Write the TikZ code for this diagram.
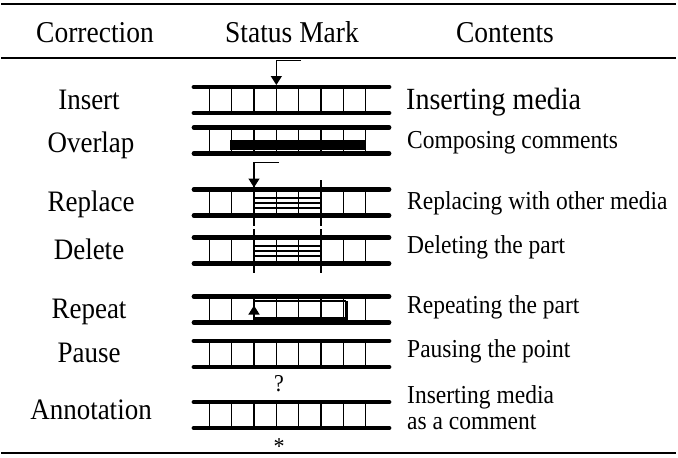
\documentclass[tikz,border=0pt]{standalone}
\usepackage{fontspec}
\setmainfont{Liberation Serif}
\usetikzlibrary{arrows.meta}
\newcommand\fstrip[1]{%
  \draw[bar] (194,#1) -- (389,#1);
  \draw[bar] (194,#1+26) -- (389,#1+26);
  \foreach \k in {0,...,7} \draw[cell] (209.3+22.35*\k,#1) -- (209.3+22.35*\k,#1+26);
}
\newcommand\tall[1]{\scalebox{1}[1.1]{#1}}
\begin{document}
\begin{tikzpicture}[x=1pt,y=-1pt,
  bar/.style={line width=4.8pt,line cap=round},
  cell/.style={line width=1.3pt},
  rulestyle/.style={line width=1.6pt},
  longmark/.style={line width=2pt},
  thinmark/.style={line width=1.3pt},
  tip/.style={-{Triangle[width=11pt,length=9pt]}, line width=1.3pt},
  hdr/.style={font=\fontsize{27.5}{30}\selectfont, anchor=base, inner sep=0pt},
  lab/.style={font=\fontsize{27}{30}\selectfont, anchor=base, inner sep=0pt},
  desc/.style={font=\fontsize{23.5}{26}\selectfont, anchor=base west, inner sep=0pt},
  bigdesc/.style={font=\fontsize{28}{30}\selectfont, anchor=base west, inner sep=0pt},
  symb/.style={font=\fontsize{22}{24}\selectfont, anchor=base, inner sep=0pt}]
\useasboundingbox (0,0) rectangle (678,458);
% rules
\draw[rulestyle] (1,4) -- (676,4);
\draw[rulestyle] (1,58) -- (676,58);
\draw[rulestyle] (1,453) -- (676,453);
% header
\node[hdr] (h1) at (95,42) {\tall{Correction}};
\node[hdr] (h2) at (292,42) {\tall{Status Mark}};
\node[hdr] (h3) at (505,42) {\tall{Contents}};
% left labels
\node[lab] (l1) at (89,109) {\tall{Insert}};
\node[lab] (l2) at (91,152) {\tall{Overlap}};
\node[lab] (l3) at (91,211) {\tall{Replace}};
\node[lab] (l4) at (89,259) {\tall{Delete}};
\node[lab] (l5) at (89,318) {\tall{Repeat}};
\node[lab] (l6) at (89,362) {\tall{Pause}};
\node[lab] (l7) at (91,419) {\tall{Annotation}};
% right descriptions
\node[bigdesc] (r1) at (406,109) {\tall{Inserting media}};
\node[desc] (r2) at (407,148) {\tall{Composing comments}};
\node[desc] (r3) at (407,209) {\tall{Replacing with other media}};
\node[desc] (r4) at (407,253) {\tall{Deleting the part}};
\node[desc] (r5) at (407,313) {\tall{Repeating the part}};
\node[desc] (r6) at (407,357) {\tall{Pausing the point}};
\node[desc] (r7) at (407,403.5) {\tall{Inserting media}};
\node[desc] (r8) at (407,429) {\tall{as a comment}};
% strips
\fstrip{87}
\fstrip{127.5}
\fstrip{189.5}
\fstrip{237.5}
\fstrip{296.5}
\fstrip{341}
\fstrip{402}
% insert arrow
\coordinate (ia) at (301,60.5);
\coordinate (ib) at (276.35,60.5);
\coordinate (ic) at (276.35,85);
\draw[tip] (ia) -- (ib) -- (ic);
% overlap block
\fill (230,140) rectangle (366,149.5);
% replace
\coordinate (ra) at (279,162.5);
\coordinate (rb) at (254,162.5);
\coordinate (rc) at (254,187.5);
\draw[tip] (ra) -- (rb) -- (rc);
\draw[longmark] (254,180) -- (254,226);
\draw[longmark] (321.4,180) -- (321.4,226);
\foreach \d in {8.5,13.5,18.5} \draw[thinmark] (254,189.5+\d) -- (321.4,189.5+\d);
% delete
\draw[longmark] (254,229) -- (254,273);
\draw[longmark] (321.4,229) -- (321.4,273);
\foreach \d in {8.5,13.5,18.5} \draw[thinmark] (254,237.5+\d) -- (321.4,237.5+\d);
% repeat
\draw[line width=1.2pt] (254,301) -- (346,301);
\draw[line width=3pt] (346,301) -- (346,318.5) -- (254,318.5);
\coordinate (pa) at (254,318.5);
\coordinate (pb) at (254,305.5);
\draw[tip] (pa) -- (pb);
% pause / annotation marks
\node[symb] (q) at (279,391) {\tall{?}};
\node[symb] (s) at (279,454) {\tall{*}};
\end{tikzpicture}
\end{document}
